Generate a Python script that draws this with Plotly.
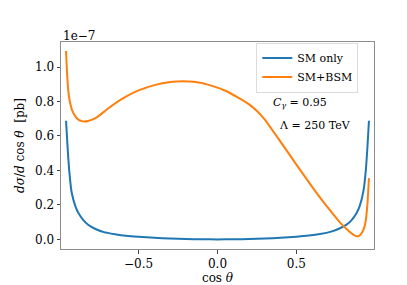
import plotly.graph_objects as go

# cos(theta) sample points
cos_sm = [-0.960, -0.950, -0.940, -0.925, -0.900, -0.880, -0.850, -0.820, -0.780, -0.720,
          -0.650, -0.580, -0.500, -0.400, -0.300, -0.200, -0.100, 0.000, 0.100, 0.200,
          0.300, 0.400, 0.500, 0.580, 0.650, 0.720, 0.780, 0.820, 0.850, 0.880,
          0.900, 0.925, 0.940, 0.950, 0.960]
# SM only, in units of 1e-7 pb
sm_only = [0.688, 0.530, 0.400, 0.275, 0.190, 0.150, 0.112, 0.085, 0.063, 0.042,
           0.030, 0.021, 0.015, 0.009, 0.005, 0.002, 0.001, 0.000, 0.001, 0.002,
           0.005, 0.009, 0.015, 0.022, 0.031, 0.045, 0.066, 0.087, 0.112, 0.150,
           0.190, 0.280, 0.400, 0.530, 0.688]

cos_bsm = [-0.960, -0.955, -0.950, -0.945, -0.940, -0.930, -0.920, -0.900, -0.880, -0.860,
           -0.845, -0.820, -0.780, -0.750, -0.700, -0.600, -0.500, -0.400, -0.300, -0.220,
           -0.150, -0.050, 0.050, 0.150, 0.200, 0.250, 0.300, 0.400, 0.500, 0.600,
           0.670, 0.730, 0.780, 0.830, 0.860, 0.885, 0.900, 0.915, 0.930, 0.940,
           0.950, 0.960]
# SM+BSM, in units of 1e-7 pb
sm_bsm = [1.093, 0.990, 0.910, 0.855, 0.820, 0.775, 0.745, 0.712, 0.693, 0.686,
          0.684, 0.687, 0.700, 0.718, 0.755, 0.818, 0.864, 0.895, 0.913, 0.918,
          0.914, 0.895, 0.862, 0.812, 0.783, 0.745, 0.695, 0.566, 0.434, 0.305,
          0.219, 0.150, 0.094, 0.050, 0.028, 0.018, 0.022, 0.038, 0.068, 0.110,
          0.200, 0.355]

x_ticks = [-0.5, 0.0, 0.5]
x_tick_labels = ["\u22120.5", "0.0", "0.5"]
y_ticks = [0.0, 0.2, 0.4, 0.6, 0.8, 1.0]
y_tick_labels = ["0.0", "0.2", "0.4", "0.6", "0.8", "1.0"]

FONT = "DejaVu Serif"
SPINE = "#8c8c8c"

fig = go.Figure()
fig.add_trace(go.Scatter(x=cos_sm, y=sm_only, mode="lines", name="SM only",
                         line=dict(color="#1f77b4", width=2, shape="spline", smoothing=0.5)))
fig.add_trace(go.Scatter(x=cos_bsm, y=sm_bsm, mode="lines", name="SM+BSM",
                         line=dict(color="#ff7f0e", width=2, shape="spline", smoothing=0.5)))

fig.update_layout(
    width=407, height=285,
    margin=dict(l=51, r=41, t=34, b=36),
    paper_bgcolor="white", plot_bgcolor="white",
    font=dict(family=FONT, size=12, color="black"),
    showlegend=True,
    legend=dict(x=0.624, y=0.997, xanchor="left", yanchor="top",
                bgcolor="rgba(255,255,255,0.8)", bordercolor="#dcdcdc", borderwidth=1,
                font=dict(family=FONT, size=11), tracegroupgap=0, itemwidth=30),
    xaxis=dict(range=[-0.992, 0.992], tickvals=x_ticks, ticktext=x_tick_labels,
               showgrid=False, zeroline=False, showline=True, mirror=True,
               linecolor=SPINE, linewidth=1, ticks="outside", ticklen=3.5,
               tickcolor="#444444", tickwidth=0.8,
               tickfont=dict(family=FONT, size=12),
               title=dict(text="cos <i>θ</i>", standoff=2, font=dict(family=FONT, size=12))),
    yaxis=dict(range=[-0.0558, 1.145], tickvals=y_ticks, ticktext=y_tick_labels,
               showgrid=False, zeroline=False, showline=True, mirror=True,
               linecolor=SPINE, linewidth=1, ticks="outside", ticklen=3.5,
               tickcolor="#444444", tickwidth=0.8,
               tickfont=dict(family=FONT, size=12),
               title=dict(text="<i>dσ</i>/<i>d</i> cos <i>θ</i>  [pb]", standoff=7,
                          font=dict(family=FONT, size=12))),
)

fig.add_annotation(text="1e\u22127", xref="paper", yref="paper", x=0, y=1,
                   xanchor="left", yanchor="bottom", showarrow=False,
                   font=dict(family=FONT, size=12), yshift=-3)
fig.add_annotation(text="<i>C</i><sub><i>γ</i></sub> = 0.95", xref="paper", yref="paper",
                   x=(262 - 51) / 315.0, y=(249.3 - 97) / 215.3, xanchor="left", yanchor="middle",
                   showarrow=False, font=dict(family=FONT, size=11))
fig.add_annotation(text="Λ = 250 TeV", xref="paper", yref="paper",
                   x=(268 - 51) / 315.0, y=(249.3 - 121) / 215.3, xanchor="left", yanchor="middle",
                   showarrow=False, font=dict(family=FONT, size=11))

fig.write_html("out.html")
